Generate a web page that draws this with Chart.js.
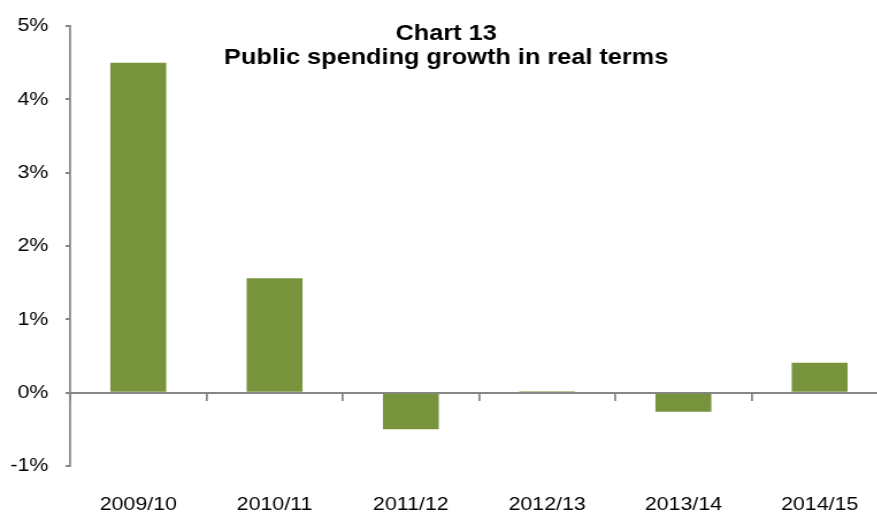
<!DOCTYPE html>
<html>
<head>
<meta charset="utf-8">
<title>Public spending growth in real terms</title>
<script src="https://cdn.jsdelivr.net/npm/chart.js@4/dist/chart.umd.min.js"></script>
<style>
  html, body { margin: 0; padding: 0; background: #fff; overflow: hidden; }
  /* the chart is laid out narrow and widened, so the Arial text keeps its wide look */
  #wrap { position: relative; width: 774px; height: 512px; transform: scaleX(1.15); transform-origin: 0 0; }
</style>
</head>
<body>
<div id="wrap"><canvas id="chart"></canvas></div>
<script>
const years = ['2009/10', '2010/11', '2011/12', '2012/13', '2013/14', '2014/15'];
const growth = [4.5, 1.56, -0.5, 0.02, -0.26, 0.41];
const titleLines = ['Chart 13', 'Public spending growth in real terms'];

const FONT = '"Liberation Sans", Arial, sans-serif';
const AXIS = '#868686';

// two-line heading sits inside the plot area
const titlePlugin = {
  id: 'chartHeading',
  afterDraw(chart) {
    const ctx = chart.ctx;
    ctx.save();
    ctx.font = 'bold 22px ' + FONT;
    ctx.fillStyle = '#000';
    ctx.textAlign = 'center';
    ctx.textBaseline = 'alphabetic';
    ctx.fillText(titleLines[0], 388, 40);
    ctx.fillText(titleLines[1], 388, 64);
    ctx.restore();
  }
};

new Chart(document.getElementById('chart'), {
  type: 'bar',
  data: {
    labels: years,
    datasets: [{
      data: growth,
      backgroundColor: '#77933C',
      borderWidth: 0,
      categoryPercentage: 1,
      barPercentage: 0.41
    }]
  },
  plugins: [titlePlugin],
  options: {
    responsive: true,
    maintainAspectRatio: false,
    animation: false,
    layout: { padding: { top: 22, right: 2, left: 0, bottom: 0 } },
    plugins: { legend: { display: false }, tooltip: { enabled: false } },
    scales: {
      x: {
        position: 'bottom',
        grid: { display: false },
        border: { display: false },
        ticks: {
          color: '#000',
          font: { family: FONT, size: 18.6 },
          padding: 20,
          maxRotation: 0,
          autoSkip: false
        },
        afterFit(scale) { scale.height = 46; }
      },
      // zero line with the category tick marks hanging below it
      x2: {
        type: 'category',
        labels: years,
        position: { y: 0 },
        offset: true,
        grid: {
          offset: true,
          drawOnChartArea: false,
          drawTicks: true,
          tickLength: 7,
          color: AXIS,
          lineWidth: 1.75
        },
        border: { display: true, color: AXIS, width: 2 },
        ticks: { display: false }
      },
      y: {
        min: -1,
        max: 5,
        ticks: {
          stepSize: 1,
          color: '#000',
          font: { family: FONT, size: 18.6 },
          padding: 15,
          callback: v => v + '%'
        },
        grid: {
          drawOnChartArea: false,
          drawTicks: true,
          tickLength: 4,
          color: AXIS,
          lineWidth: 2
        },
        border: { display: true, color: AXIS, width: 1.75 },
        afterFit(scale) { scale.width = 61; }
      }
    }
  }
});
</script>
</body>
</html>
